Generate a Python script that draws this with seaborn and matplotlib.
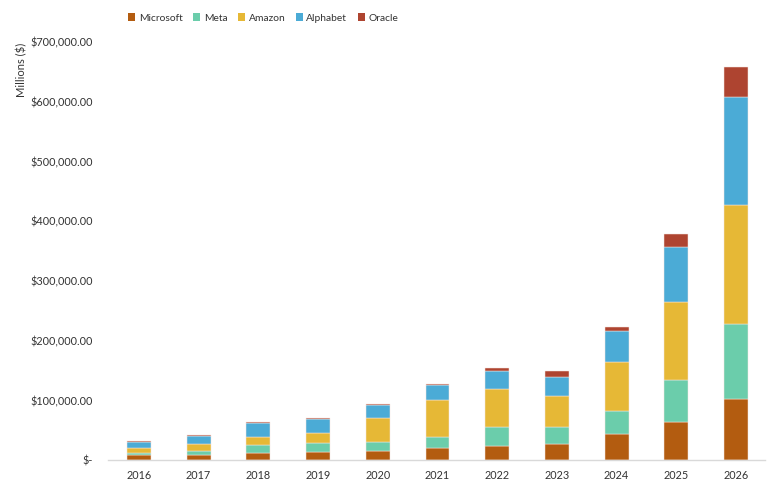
import matplotlib
matplotlib.use("Agg")
import matplotlib.pyplot as plt
import matplotlib.ticker as mticker
from matplotlib.patches import Patch
import seaborn as sns
import pandas as pd

years = [2016, 2017, 2018, 2019, 2020, 2021, 2022, 2023, 2024, 2025, 2026]
companies = ["Microsoft", "Meta", "Amazon", "Alphabet", "Oracle"]
microsoft = [8000, 7900, 11600, 13000, 15000, 20600, 23900, 27800, 44300, 63100, 102700]
meta = [4500, 6700, 13500, 15000, 15100, 18200, 31400, 27300, 37300, 70400, 125600]
amazon = [8400, 11900, 12900, 17200, 40200, 61200, 63000, 53000, 82700, 131600, 198800]
alphabet = [9800, 13300, 24500, 23300, 22300, 25000, 31700, 31900, 52400, 91600, 180800]
oracle = [1500, 1800, 2100, 1800, 1600, 2100, 4500, 8800, 7000, 21300, 50300]
colors = ["#B35C10", "#6BCDAB", "#E6B836", "#4BABD6", "#AE4430"]
yticks = [0, 100000, 200000, 300000, 400000, 500000, 600000, 700000]

series = dict(zip(companies, [microsoft, meta, amazon, alphabet, oracle]))
rows = []
for c in companies:
    for y, v in zip(years, series[c]):
        rows.append({"Year": y, "Company": c, "Value": v})
df = pd.DataFrame(rows)

sns.set_theme(style="white")
plt.rcParams["font.family"] = ["Lato", "DejaVu Sans"]

fig = plt.figure(figsize=(7.81, 4.90), dpi=100)
ax = fig.add_axes([0.138, 0.061, 0.842, 0.853])

order_rev = companies[::-1]
pal = dict(zip(companies, colors))
sns.histplot(data=df, x="Year", weights="Value", hue="Company",
             hue_order=order_rev, palette=pal, multiple="stack",
             discrete=True, shrink=0.4, alpha=1, edgecolor="#F6E6E0",
             linewidth=0.35, legend=False, ax=ax)

ax.set_xlim(years[0] - 0.52, years[-1] + 0.49)
ax.set_ylim(0, 700000)
ax.set_xticks(years)
ax.set_xticklabels([str(y) for y in years])
ax.set_yticks(yticks)

def fmt(v, pos):
    if v == 0:
        return "$-"
    return "${:,.2f}".format(v)

ax.yaxis.set_major_formatter(mticker.FuncFormatter(fmt))
ax.tick_params(axis="both", labelsize=7.8, colors="#333333", length=0, pad=7)
ax.tick_params(axis="y", pad=11)
ax.set_xlabel("")
ax.set_ylabel("")
for s in ["top", "right", "left"]:
    ax.spines[s].set_visible(False)
ax.spines["bottom"].set_color("#D9D9D9")
ax.spines["bottom"].set_linewidth(1)
ax.grid(False)

fig.text(22 / 781, 1 - 70 / 490, "Millions ($)", rotation=90, fontsize=8,
         color="#333333", ha="center", va="center")

handles = [Patch(facecolor=c, edgecolor="none") for c in colors]
fig.legend(handles, companies, loc="center left",
           bbox_to_anchor=(119 / 781, 1 - 18 / 490), ncol=5, frameon=False,
           fontsize=7.4, handlelength=0.7, handleheight=0.7, handletextpad=0.35,
           columnspacing=1.0, labelcolor="#333333")

fig.savefig("out.png", dpi=100)
